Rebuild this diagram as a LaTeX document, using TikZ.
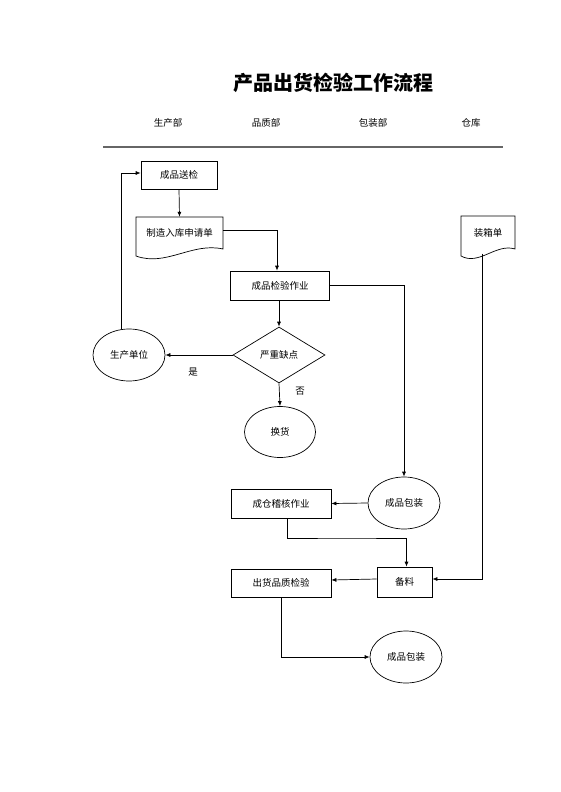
\documentclass[tikz,border=0pt]{standalone}
\usepackage{fontspec}
\setmainfont{Noto Sans CJK SC}
\usetikzlibrary{shapes.geometric,arrows.meta}
\begin{document}
\begin{tikzpicture}[x=1pt,y=-1pt,
  every node/.style={font=\fontsize{9.5}{11}\selectfont, inner sep=0pt},
  box/.style={draw, line width=0.7pt, minimum width=#1, minimum height=29pt},
  oval/.style={draw, line width=0.7pt, ellipse, minimum width=72pt, minimum height=52pt},
  dia/.style={draw, line width=0.7pt, diamond, aspect=1.64, minimum width=92pt, minimum height=56pt},
  docn/.style={draw=none, minimum width=#1, minimum height=32pt},
  conn/.style={line width=0.7pt},
  arr/.style={conn, -{Latex[length=5pt,width=4pt]}},
  lab/.style={font=\fontsize{9.5}{11}\selectfont}
]
\useasboundingbox (0,0) rectangle (560,792);

% title and headers
\node[font=\fontsize{20}{24}\selectfont\bfseries] (title) at (333,83) {产品出货检验工作流程};
\node (h1) at (168,123) {生产部};
\node (h2) at (266,123) {品质部};
\node (h3) at (373,123) {包装部};
\node (h4) at (471,123) {仓库};
\draw[line width=1.6pt, gray!80!black] (103,147) -- (503,147);

% nodes
\node[box=76pt, minimum height=28pt] (sj) at (179,175) {成品送检};
\node[docn=87pt] (doc1) at (179.5,233) {制造入库申请单};
\draw[line width=0.7pt] (136,217) -- (223,217) -- (223,249) .. controls (192,242) and (166,267) .. (136,256) -- cycle;
\node[box=99pt] (jy) at (280,285.5) {成品检验作业};
\node[dia] (dm) at (279,355) {严重缺点};
\node[oval] (sc) at (129,355) {生产单位};
\node[oval, minimum width=71pt, minimum height=51pt] (hh) at (280,432) {换货};
\node[docn=54pt, minimum height=33pt] (doc2) at (488,232.5) {装箱单};
\draw[line width=0.7pt] (461,216) -- (515,216) -- (515,249) .. controls (496,243) and (479,266) .. (461,256) -- cycle;
\coordinate (d2b) at (482,253.5);
\node[oval] (bz1) at (404,503) {成品包装};
\node[box=100pt] (jh) at (281,503.5) {成仓稽核作业};
\node[box=55pt, minimum height=30pt] (bl) at (404.5,582) {备料};
\node[box=100pt, minimum height=28pt] (ch) at (281,583) {出货品质检验};
\node[oval] (bz2) at (406,657) {成品包装};
\node[lab] (yes) at (193,372) {是};
\node[lab] (no) at (300,391) {否};

% connectors
\draw[arr] (sj.south) -- (doc1.north);
\draw[arr] ([yshift=3pt]doc1.east) -| ([xshift=-3pt]jy.north);
\draw[arr] (jy.south -| dm.north) -- (dm.north);
\draw[arr] (jy.east) -| (bz1.north);
\draw[arr] (dm.west) -- (sc.east);
\draw[arr] (dm.south) -- (hh.north);
\draw[arr] ([xshift=-8pt]sc.north) |- ([yshift=2pt]sj.west);
\draw[arr] (bz1.west) -- (jh.east);
\coordinate (m1) at (347,538);
\draw[arr] ([xshift=6pt]jh.south) |- (m1) -| ([xshift=2pt]bl.north);
\draw[arr] (d2b) |- ([yshift=3pt]bl.east);
\draw[arr] ([yshift=3pt]bl.west) -- ([yshift=3pt]ch.east);
\draw[arr] (ch.south) |- (bz2.west);
\end{tikzpicture}
\end{document}
